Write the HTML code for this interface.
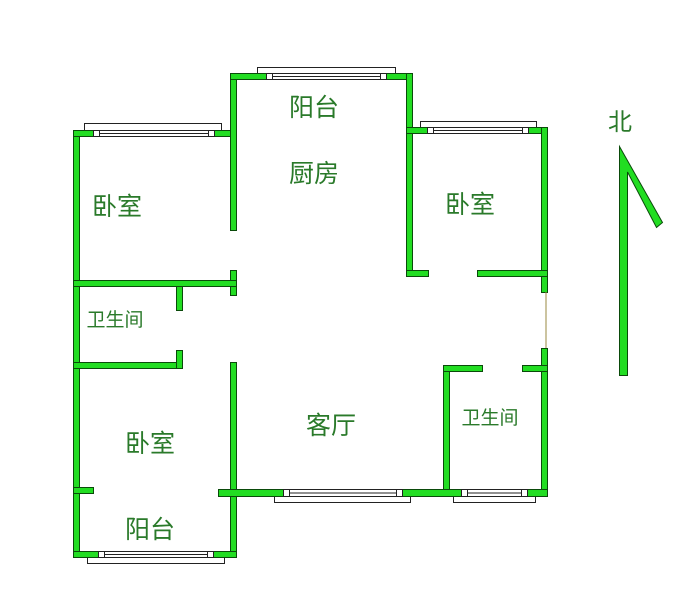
<!DOCTYPE html>
<html><head><meta charset="utf-8"><style>
html,body{margin:0;padding:0;background:#fff;}
svg{display:block;}
.w{fill:#22dd22;stroke:#0a4a0a;stroke-width:1;}
.win{fill:#fff;stroke:#222;stroke-width:1;}
.t{font-family:"Liberation Sans","Noto Sans CJK SC",sans-serif;fill:#2a7a2a;}
</style></head><body>
<svg width="690" height="609" viewBox="0 0 690 609" xmlns="http://www.w3.org/2000/svg">
<!-- window boxes (outer) -->
<rect class="win" x="84.5" y="123.5" width="137" height="7"/>
<rect class="win" x="257.5" y="67.5" width="138" height="6"/>
<rect class="win" x="420.5" y="121.5" width="116" height="6"/>
<rect class="win" x="274.5" y="496.5" width="136" height="6"/>
<rect class="win" x="453.5" y="496.5" width="82" height="6"/>
<rect class="win" x="87.5" y="557.5" width="137" height="6"/>

<!-- walls -->
<rect class="w" x="73.5" y="130.5" width="6" height="427"/>
<rect class="w" x="73.5" y="130.5" width="163" height="6"/>
<rect class="w" x="230.5" y="73.5" width="6" height="157"/>
<rect class="w" x="230.5" y="270.5" width="6" height="25"/>
<rect class="w" x="230.5" y="362.5" width="6" height="195"/>
<rect class="w" x="230.5" y="73.5" width="182" height="6"/>
<rect class="w" x="406.5" y="73.5" width="6" height="203"/>
<rect class="w" x="406.5" y="270.5" width="22" height="6"/>
<rect class="w" x="406.5" y="127.5" width="141" height="6"/>
<rect class="w" x="541.5" y="127.5" width="6" height="165"/>
<rect class="w" x="541.5" y="348.5" width="6" height="148"/>
<rect class="w" x="477.5" y="270.5" width="70" height="6"/>
<line x1="546" y1="292" x2="546" y2="348" stroke="#9a8a40" stroke-width="1"/>
<rect class="w" x="443.5" y="365.5" width="6" height="131"/>
<rect class="w" x="443.5" y="365.5" width="39" height="6"/>
<rect class="w" x="522.5" y="365.5" width="25" height="6"/>
<rect class="w" x="218.5" y="489.5" width="329" height="7"/>
<rect class="w" x="73.5" y="280.5" width="163" height="6"/>
<rect class="w" x="176.5" y="286.5" width="6" height="24"/>
<rect class="w" x="73.5" y="362.5" width="109" height="6"/>
<rect class="w" x="176.5" y="350.5" width="6" height="18"/>
<rect class="w" x="73.5" y="487.5" width="20" height="6"/>
<rect class="w" x="73.5" y="551.5" width="163" height="6"/>

<!-- windows in walls -->
<g>
<rect class="win" x="93.5" y="130.5" width="121" height="6"/><line x1="99" y1="133.5" x2="209" y2="133.5" stroke="#222"/>
<rect class="win" x="93.5" y="130.5" width="6" height="6"/><rect class="win" x="208.5" y="130.5" width="6" height="6"/>
<rect class="win" x="266.5" y="73.5" width="120" height="6"/><line x1="272" y1="76.5" x2="380" y2="76.5" stroke="#222"/>
<rect class="win" x="266.5" y="73.5" width="6" height="6"/><rect class="win" x="380.5" y="73.5" width="6" height="6"/>
<rect class="win" x="427.5" y="127.5" width="101" height="6"/><line x1="434" y1="130.5" x2="522" y2="130.5" stroke="#222"/>
<rect class="win" x="427.5" y="127.5" width="6" height="6"/><rect class="win" x="522.5" y="127.5" width="6" height="6"/>
<rect class="win" x="283.5" y="489.5" width="119" height="7"/><line x1="289" y1="493" x2="397" y2="493" stroke="#222"/>
<rect class="win" x="283.5" y="489.5" width="6" height="7"/><rect class="win" x="396.5" y="489.5" width="6" height="7"/>
<rect class="win" x="461.5" y="489.5" width="66" height="7"/><line x1="467" y1="493" x2="521" y2="493" stroke="#222"/>
<rect class="win" x="461.5" y="489.5" width="6" height="7"/><rect class="win" x="521.5" y="489.5" width="6" height="7"/>
<rect class="win" x="98.5" y="551.5" width="115" height="6"/><line x1="104" y1="554.5" x2="208" y2="554.5" stroke="#222"/>
<rect class="win" x="98.5" y="551.5" width="6" height="6"/><rect class="win" x="207.5" y="551.5" width="6" height="6"/>
</g>

<!-- north arrow -->
<polygon class="w" points="619.5,146.5 662.5,222.5 656.5,227.5 627.5,172 627.5,375.5 619.5,375.5"/>

<!-- labels -->
<g class="t" text-anchor="middle">
<text x="314" y="116" font-size="25">阳台</text>
<text x="314" y="182" font-size="25">厨房</text>
<text x="117" y="215" font-size="25">卧室</text>
<text x="470" y="213" font-size="25">卧室</text>
<text x="115" y="326" font-size="19">卫生间</text>
<text x="150" y="452" font-size="25">卧室</text>
<text x="331" y="434" font-size="25">客厅</text>
<text x="490" y="424" font-size="19">卫生间</text>
<text x="150" y="538" font-size="25">阳台</text>
<text x="620" y="130" font-size="24">北</text>
</g>
</svg>
</body></html>
